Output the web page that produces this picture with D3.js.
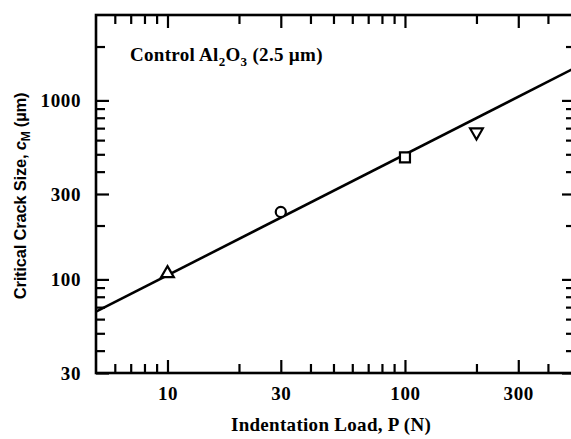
<!DOCTYPE html>
<html>
<head>
<meta charset="utf-8">
<script src="https://cdn.jsdelivr.net/npm/d3@7"></script>
<style>
  body { margin: 0; background: #fff; }
  text { font-family: "Liberation Serif", "Times New Roman", serif; fill: #000; }
</style>
</head>
<body>
<div id="chart"></div>
<script>
// data
const loads = [10, 30, 100, 200]          // P (N)
const crackSizes = [108, 238, 480, 665]   // c_M (um)
const markerShapes = ['triangle', 'circle', 'square', 'triangleDown']
const fitLoads = [5, 520]
const fitSizes = [66, 1520]

const xMajorTicks = [10, 30, 100, 300]
const xMinorTicks = [6, 7, 8, 9, 20, 40, 50, 60, 70, 80, 90, 200, 400]
const yMajorTicks = [30, 100, 300, 1000]
const yMinorTicks = [40, 50, 60, 70, 80, 90, 200, 400, 500, 600, 700, 800, 900, 2000]

const WIDTH = 571
const HEIGHT = 439
const margin = { top: 15, right: -4, bottom: 66, left: 96 }
const innerW = WIDTH - margin.left - margin.right
const innerH = HEIGHT - margin.top - margin.bottom

const svg = d3.select('#chart')
    .append('svg')
    .attr('width', WIDTH)
    .attr('height', HEIGHT)

const g = svg.append('g')
    .attr('transform', `translate(${margin.left}, ${margin.top})`)

const x = d3.scaleLog().domain([5, 520]).range([0, innerW])
const y = d3.scaleLog().domain([30, 3000]).range([innerH, 0])

const MAJOR = 13
const MINOR = 9
const fmt = d => String(d)

/**
 * Axes (ticks point inward on all four sides)
 */
g.append('g')
    .attr('transform', `translate(0, ${innerH})`)
    .call(d3.axisBottom(x).tickValues(xMajorTicks).tickFormat(fmt).tickSizeInner(-MAJOR).tickSizeOuter(0).tickPadding(MAJOR + 1))
g.append('g')
    .attr('transform', `translate(0, ${innerH})`)
    .call(d3.axisBottom(x).tickValues(xMinorTicks).tickFormat('').tickSizeInner(-MINOR).tickSizeOuter(0))
g.append('g')
    .call(d3.axisTop(x).tickValues(xMajorTicks).tickFormat('').tickSizeInner(-MAJOR).tickSizeOuter(0))
g.append('g')
    .call(d3.axisTop(x).tickValues(xMinorTicks).tickFormat('').tickSizeInner(-MINOR).tickSizeOuter(0))

g.append('g')
    .call(d3.axisLeft(y).tickValues(yMajorTicks).tickFormat(fmt).tickSizeInner(-MAJOR).tickSizeOuter(0).tickPadding(MAJOR + 2))
g.append('g')
    .call(d3.axisLeft(y).tickValues(yMinorTicks).tickFormat('').tickSizeInner(-MINOR).tickSizeOuter(0))
g.append('g')
    .attr('transform', `translate(${innerW}, 0)`)
    .call(d3.axisRight(y).tickValues(yMajorTicks).tickFormat('').tickSizeInner(-MAJOR).tickSizeOuter(0))
g.append('g')
    .attr('transform', `translate(${innerW}, 0)`)
    .call(d3.axisRight(y).tickValues(yMinorTicks).tickFormat('').tickSizeInner(-MINOR).tickSizeOuter(0))

g.selectAll('.domain').remove()
g.selectAll('.tick line').attr('stroke', '#000').attr('stroke-width', 2.2)
g.selectAll('.tick text')
    .attr('font-size', '19px')
    .attr('font-weight', 'bold')
    .attr('letter-spacing', '0.6px')
    .style('font-family', '"Liberation Serif", serif')

// frame
g.append('rect')
    .attr('width', innerW)
    .attr('height', innerH)
    .attr('fill', 'none')
    .attr('stroke', '#000')
    .attr('stroke-width', 2.6)

/**
 * Fit line
 */
const line = d3.line()
    .x(d => x(d[0]))
    .y(d => y(d[1]))
g.append('path')
    .datum(d3.zip(fitLoads, fitSizes))
    .attr('d', line)
    .attr('fill', 'none')
    .attr('stroke', '#000')
    .attr('stroke-width', 2.6)

/**
 * Markers
 */
const symbolFor = {
    triangle: d3.symbol().type(d3.symbolTriangle).size(70),
    triangleDown: d3.symbol().type(d3.symbolTriangle).size(70),
    circle: d3.symbol().type(d3.symbolCircle).size(80),
    square: d3.symbol().type(d3.symbolSquare).size(100),
}
g.selectAll('.marker')
    .data(d3.range(loads.length))
    .enter()
    .append('path')
    .attr('class', 'marker')
    .attr('d', i => symbolFor[markerShapes[i]]())
    .attr('transform', i => {
        const rot = markerShapes[i] === 'triangleDown' ? ' rotate(180)' : ''
        return `translate(${x(loads[i])}, ${y(crackSizes[i])})${rot}`
    })
    .attr('fill', '#fff')
    .attr('stroke', '#000')
    .attr('stroke-width', 2.2)

/**
 * Labels
 */
const title = g.append('text')
    .attr('x', 34)
    .attr('y', 46)
    .attr('font-size', '19px')
    .attr('font-weight', 'bold')
    .attr('letter-spacing', '0.3px')
title.append('tspan').text('Control Al')
title.append('tspan').attr('font-size', '13px').attr('dy', 5).text('2')
title.append('tspan').attr('dy', -5).text('O')
title.append('tspan').attr('font-size', '13px').attr('dy', 5).text('3')
title.append('tspan').attr('dy', -5).text(' (2.5 µm)')

svg.append('text')
    .attr('x', 331)
    .attr('y', 431)
    .attr('text-anchor', 'middle')
    .attr('font-size', '19px')
    .attr('font-weight', 'bold')
    .attr('letter-spacing', '0.3px')
    .text('Indentation Load, P (N)')

const yLabel = svg.append('text')
    .attr('transform', 'translate(26, 196) rotate(-90)')
    .attr('text-anchor', 'middle')
    .attr('font-size', '16.5px')
    .attr('font-weight', 'bold')
    .attr('letter-spacing', '-0.2px')
    .style('font-family', '"Liberation Sans", Arial, sans-serif')
yLabel.append('tspan').text('Critical Crack Size, ')
yLabel.append('tspan').attr('font-style', 'italic').text('c')
yLabel.append('tspan').attr('font-size', '12px').attr('dy', 4).text('M')
yLabel.append('tspan').attr('dy', -4).text(' (µm)')
</script>
</body>
</html>
